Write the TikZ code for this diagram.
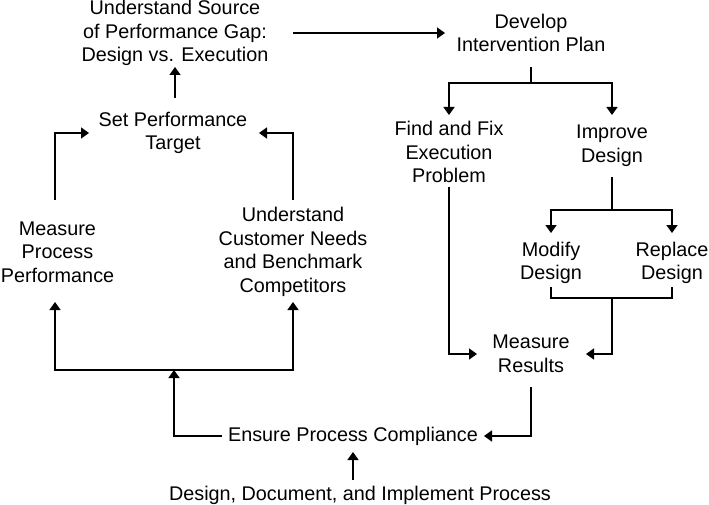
\documentclass[tikz,border=0pt]{standalone}
\usepackage{fontspec}
\setmainfont{Liberation Sans}
\usetikzlibrary{arrows.meta}
\begin{document}
\begin{tikzpicture}[x=1pt,y=-1pt,
  lbl/.style={align=center, inner sep=0pt, font=\fontsize{19.8}{23.7}\selectfont},
  arr/.style={-{Triangle[length=8pt,width=11pt]}},
  line width=1.6pt, line join=miter]
\useasboundingbox (0,0) rectangle (709,505);
% nodes
\node[lbl] (us)  at (175,33)  {Understand Source\\of Performance Gap:\\Design vs. Execution};
\node[lbl] (spt) at (173,133) {Set Performance\\Target};
\node[lbl] (dip) at (531,33)  {Develop\\Intervention Plan};
\node[lbl] (ffe) at (449,152) {Find and Fix\\Execution\\Problem};
\node[lbl] (imp) at (612,146) {Improve\\Design};
\node[lbl] (mod) at (551,263) {Modify\\Design};
\node[lbl] (rep) at (672,263) {Replace\\Design};
\node[lbl] (mr)  at (531,354) {Measure\\Results};
\node[lbl] (epc) at (353,436) {Ensure Process Compliance};
\node[lbl] (ddi) at (360,495) {Design, Document, and Implement Process};
\node[lbl] (mpp) at (57.5,252)  {Measure\\Process\\Performance};
\node[lbl] (ucn) at (293,252) {Understand\\Customer Needs\\and Benchmark\\Competitors};
% connectors
\coordinate (split1) at (dip.south |- 0,83);
\coordinate (split2) at (imp.south |- 0,210);
\coordinate (join1) at (imp.south |- 0,298);
\coordinate (split3) at (174,370);
\coordinate (mppin) at (55,302);
\coordinate (mppout) at (55,200);
\draw[arr] (us.south |- 0,98) -- (us.south |- 0,67);
\draw[arr] (us.east -| 293,0) -- (dip.west -| 445,0);
\draw (dip.south |- 0,67) -- (split1);
\draw[arr] (split1) -| (ffe.north |- 0,115);
\draw[arr] (split1) -| (imp.north |- 0,115);
\draw (imp.south |- 0,177) -- (split2);
\draw[arr] (split2) -| (mod.north |- 0,233);
\draw[arr] (split2) -| (rep.north |- 0,233);
\draw (mod.south |- 0,287) |- (rep.south |- 0,298) -- (rep.south |- 0,287);
\draw[arr] (join1) |- (mr.east -| 586,0);
\draw[arr] (ffe.south |- 0,187) |- (mr.west -| 477,0);
\draw[arr] (mr.south |- 0,387) |- (epc.east -| 484,0);
\draw[arr] (epc.west -| 222,0) -| (split3);
\draw[arr] (split3) -| (mppin);
\draw[arr] (split3) -| (ucn.south |- 0,302);
\draw[arr] (epc.south |- 0,480) -- (epc.south |- 0,452);
\draw[arr] (mppout) |- (spt.west -| 89,0);
\draw[arr] (ucn.north |- 0,200) |- (spt.east -| 259,0);
\end{tikzpicture}
\end{document}
